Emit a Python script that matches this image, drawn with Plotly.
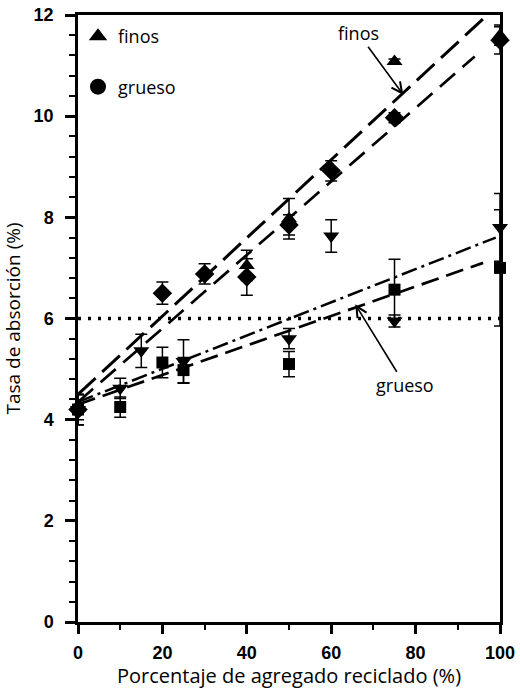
import plotly.graph_objects as go

# ---- data ----
# finos (upper group)
fin_d_x = [0, 20, 30, 40, 50, 60, 75, 100]
fin_d_y = [4.2, 6.5, 6.88, 6.82, 7.85, 8.92, 9.97, 11.5]
fin_d_e = [0.3, 0.22, 0.2, 0.36, 0.2, 0.2, 0.1, 0.27]

fin_t_x = [0, 40, 50, 75, 100]
fin_t_y = [4.25, 7.05, 7.97, 11.08, 11.6]
fin_t_e = [0.25, 0.3, 0.4, 0.05, 0.2]

# grueso (lower group)
gru_t_x = [0, 10, 15, 25, 50, 60, 75, 100]
gru_t_y = [4.2, 4.62, 5.36, 5.15, 5.6, 7.63, 5.95, 7.8]
gru_t_e = [0.3, 0.2, 0.33, 0.43, 0.2, 0.32, 0.12, 0.67]

gru_s_x = [0, 10, 20, 25, 50, 75, 100]
gru_s_y = [4.2, 4.25, 5.13, 4.98, 5.1, 6.57, 7.0]
gru_s_e = [0.3, 0.2, 0.3, 0.25, 0.25, 0.6, 1.15]

# trend lines (end points)
trend_fin_a_x = [0, 97]
trend_fin_a_y = [4.5, 12.0]
trend_fin_b_x = [0, 94]
trend_fin_b_y = [4.35, 11.18]
trend_gru_a_x = [0, 99]
trend_gru_a_y = [4.35, 7.6]
trend_gru_b_x = [0, 96]
trend_gru_b_y = [4.3, 7.1]
ref_x = [0, 100]
ref_y = [6, 6]

x_ticks = [0, 20, 40, 60, 80, 100]
y_ticks = [0, 2, 4, 6, 8, 10, 12]

fig = go.Figure()

def line(x, y, dash, w=2.6):
    fig.add_trace(go.Scatter(x=x, y=y, mode="lines", showlegend=False,
                             line=dict(color="black", width=w, dash=dash),
                             hoverinfo="skip"))

line(ref_x, ref_y, "3px,7px", 3.5)
line(trend_fin_a_x, trend_fin_a_y, "24px,9px", 3)
line(trend_fin_b_x, trend_fin_b_y, "20px,10px", 2.7)
line(trend_gru_a_x, trend_gru_a_y, "16px,5px,3px,5px", 2.5)
line(trend_gru_b_x, trend_gru_b_y, "18px,8px", 2.7)

def pts(x, y, e, sym, size):
    fig.add_trace(go.Scatter(x=x, y=y, mode="markers", showlegend=False,
                             cliponaxis=False,
                             marker=dict(symbol=sym, size=size, color="black"),
                             error_y=dict(type="data", array=e, visible=True,
                                          color="black", thickness=1.5, width=6)))

pts(gru_s_x, gru_s_y, gru_s_e, "square", 12)
pts(gru_t_x, gru_t_y, gru_t_e, "triangle-down", 14)
pts(fin_d_x, fin_d_y, fin_d_e, "diamond", 15)
pts(fin_t_x, fin_t_y, fin_t_e, "triangle-up", 14)

# legend entries
fig.add_trace(go.Scatter(x=[None], y=[None], mode="markers", name="finos",
                         legendgroup="a",
                         marker=dict(symbol="triangle-up", size=16, color="black")))
fig.add_trace(go.Scatter(x=[None], y=[None], mode="markers", name="grueso",
                         legendgroup="b",
                         marker=dict(symbol="circle", size=16, color="black")))

fig.add_annotation(x=77.1, y=10.42, ax=66.4, ay=11.64, axref="x", ayref="y",
                   text="finos", showarrow=True, arrowhead=5, arrowsize=1.3,
                   arrowwidth=1.6, arrowcolor="black",
                   font=dict(family="Open Sans", size=18, color="black"))
fig.add_annotation(x=65.7, y=6.28, ax=77.5, ay=4.68, axref="x", ayref="y",
                   text="grueso", showarrow=True, arrowhead=5, arrowsize=1.3,
                   arrowwidth=1.6, arrowcolor="black",
                   font=dict(family="Open Sans", size=18, color="black"))

fig.update_layout(
    template="none",
    width=520, height=689,
    margin=dict(l=78, r=20, t=15, b=67, pad=0),
    paper_bgcolor="white", plot_bgcolor="white",
    showlegend=True,
    legend=dict(x=0.0, y=0.995, xanchor="left", yanchor="top",
                bgcolor="rgba(0,0,0,0)", tracegroupgap=24,
                font=dict(family="Open Sans", size=18, color="black")),
    xaxis=dict(range=[0, 100], tickvals=x_ticks, ticks="outside", ticklen=9,
               tickwidth=2.5, tickcolor="black", automargin=False,
               ticklabelstandoff=4,
               minor=dict(dtick=10, ticks="outside", ticklen=5, tickwidth=2,
                          tickcolor="black"),
               showgrid=False, zeroline=False, showline=True, linecolor="black",
               linewidth=2.5, mirror=True,
               tickfont=dict(family="Liberation Sans", size=18, color="black",
                             weight="bold"),
               title=dict(text="Porcentaje de agregado reciclado (%)", standoff=6,
                          font=dict(family="Open Sans", size=20, color="black"))),
    yaxis=dict(range=[0, 12], tickvals=y_ticks, ticks="outside", ticklen=10,
               tickwidth=2.5, tickcolor="black", automargin=False,
               ticklabelstandoff=8,
               minor=dict(dtick=0.4, ticks="outside", ticklen=6, tickwidth=2,
                          tickcolor="black"),
               showgrid=False, zeroline=False, showline=True, linecolor="black",
               linewidth=2.5, mirror=True,
               tickfont=dict(family="Liberation Sans", size=18, color="black",
                             weight="bold"),
               title=dict(text="Tasa de absorción (%)", standoff=10,
                          font=dict(family="Open Sans", size=19, color="black"))),
)

fig.write_html("out.html")
